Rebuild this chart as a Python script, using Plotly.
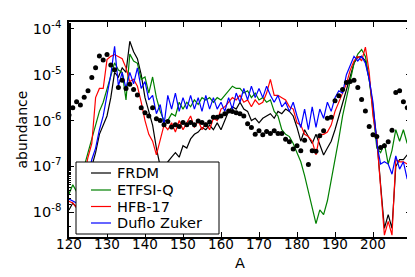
import plotly.graph_objects as go

A = list(range(120, 210))

# log10(abundance) values, A = 120 .. 209
solar_log = [-5.88, -5.72, -5.59, -5.66, -5.49, -5.35, -5.06, -4.85, -4.59, -4.68,
             -4.56, -4.79, -4.89, -5.28, -5.12, -5.30, -5.21, -5.32, -5.44, -5.72,
             -5.83, -5.90, -5.72, -5.96, -6.00, -6.09, -6.02, -6.14, -6.09, -6.13,
             -6.04, -6.09, -6.04, -6.09, -6.01, -6.04, -6.09, -6.03, -5.93, -5.93,
             -5.90, -5.85, -5.79, -5.80, -5.83, -5.85, -5.90, -6.07, -6.15, -6.30,
             -6.22, -6.31, -6.24, -6.28, -6.22, -6.28, -6.28, -6.41, -6.46, -6.62,
             -6.55, -6.66, -6.43, -6.96, -6.66, -6.67, -6.33, -6.22, -5.95, -5.93,
             -5.57, -5.46, -5.32, -5.17, -5.15, -5.12, -5.28, -5.54, -5.79, -6.13,
             -6.31, -6.35, -6.59, -6.55, -6.46, -6.21, -5.39, -5.35, -5.59, -5.72]

frdm_log = [-7.95, -7.80, -7.90, -7.80, -7.60, -7.30, -7.00, -6.70, -6.30, -6.10,
            -5.90, -5.50, -4.95, -5.05, -4.85, -4.95, -4.27, -4.50, -4.65, -5.00,
            -5.50, -5.80, -6.10, -6.60, -7.00, -7.30, -6.90, -6.80, -6.70, -6.80,
            -6.55, -6.60, -6.40, -6.30, -6.25, -6.15, -6.20, -6.10, -6.20, -6.05,
            -6.20, -6.00, -5.80, -5.70, -5.75, -5.60, -5.75, -5.80, -6.00, -5.95,
            -6.05, -5.95, -5.90, -5.85, -5.95, -5.80, -5.85, -5.75, -5.80, -5.90,
            -6.15, -6.45, -6.20, -6.35, -6.50, -6.30, -6.55, -6.75, -6.60, -6.45,
            -6.20, -5.90, -5.60, -5.30, -5.00, -4.75, -4.62, -4.60, -4.70, -5.10,
            -5.70, -6.40, -7.40, -8.35, -8.05, -8.35, -7.00, -6.85, -6.85, -6.75]

etfsi_log = [-7.60, -7.40, -7.55, -7.30, -7.00, -6.70, -6.40, -6.10, -5.80, -5.60,
             -5.30, -5.00, -4.74, -4.90, -4.95, -5.55, -4.55, -4.70, -4.75, -5.10,
             -5.05, -5.40, -5.05, -5.50, -5.80, -6.00, -6.00, -5.85, -5.90, -5.60,
             -5.75, -5.60, -5.70, -5.55, -5.65, -5.50, -5.55, -5.50, -5.60, -5.50,
             -5.55, -5.45, -5.35, -5.25, -5.30, -5.30, -5.40, -5.35, -5.50, -5.40,
             -5.55, -5.50, -5.60, -5.55, -5.80, -5.90, -6.20, -6.30, -6.35, -6.50,
             -6.70, -6.90, -7.20, -7.55, -7.85, -8.25, -7.95, -8.05, -7.75, -7.30,
             -6.90, -6.40, -5.90, -5.50, -5.10, -4.75, -4.55, -4.45, -4.60, -5.10,
             -5.80, -6.60, -6.70, -6.50, -6.95, -6.65, -6.20, -6.45, -6.20, -6.50]

hfb_log = [-7.76, -7.80, -7.90, -7.60, -7.20, -6.80, -6.50, -5.50, -5.30, -5.30,
           -4.67, -4.60, -4.56, -4.60, -4.65, -4.85, -5.15, -5.10, -5.25, -5.60,
           -6.00, -6.30, -6.45, -6.75, -6.40, -6.10, -6.20, -6.05, -6.25, -6.00,
           -6.20, -6.05, -5.90, -6.15, -6.00, -6.20, -6.05, -6.20, -5.95, -6.00,
           -5.75, -5.70, -5.60, -5.50, -5.55, -5.45, -5.60, -5.55, -5.70, -5.55,
           -5.65, -5.60, -5.40, -5.10, -5.45, -5.45, -5.50, -5.55, -5.70, -5.75,
           -6.05, -6.10, -6.30, -6.35, -6.45, -6.75, -6.30, -6.30, -6.25, -6.10,
           -5.80, -5.60, -5.40, -5.20, -4.90, -4.70, -4.60, -4.70, -4.40, -4.95,
           -5.90, -6.40, -7.45, -8.50, -8.20, -8.50, -6.85, -6.90, -6.90, -6.95]

dz_log = [-7.71, -7.75, -7.80, -7.70, -7.50, -7.20, -6.85, -6.60, -6.20, -5.90,
          -5.40, -5.00, -4.38, -5.25, -4.95, -5.30, -4.95, -5.20, -4.85, -5.30,
          -5.15, -5.55, -5.45, -5.85, -5.65, -6.10, -5.45, -5.75, -5.40, -5.80,
          -5.50, -5.75, -5.45, -5.75, -5.50, -5.80, -5.45, -5.75, -5.50, -5.75,
          -5.60, -5.80, -5.50, -5.75, -5.40, -5.60, -5.30, -5.55, -5.25, -5.50,
          -5.30, -5.50, -5.25, -5.45, -5.60, -5.45, -5.70, -5.60, -5.80, -5.60,
          -5.90, -6.15, -5.75, -6.20, -5.70, -6.15, -5.75, -5.95, -5.60, -5.80,
          -5.50, -5.35, -5.40, -5.00, -4.80, -4.60, -4.70, -4.60, -4.75, -5.10,
          -5.60, -6.50, -6.95, -6.90, -6.95, -7.17, -6.77, -7.06, -6.90, -7.28]

series_names = ["FRDM", "ETFSI-Q", "HFB-17", "Duflo Zuker"]
series_vals = [frdm_log, etfsi_log, hfb_log, dz_log]
series_colors = ["#000000", "#008000", "#ff0000", "#0000ff"]

FONT = "DejaVu Sans"
W, H = 415, 277
ML, MR, MT, MB = 61, 12, 14, 48
PW, PH = W - ML - MR, H - MT - MB


def px_x(p):
    return (p - ML) / PW


def px_y(p):
    return (H - MB - p) / PH


fig = go.Figure()
for name, vals, col in zip(series_names, series_vals, series_colors):
    fig.add_trace(go.Scatter(x=A, y=[10 ** v for v in vals], mode="lines", name=name,
                             line=dict(color=col, width=1.2), showlegend=False))
fig.add_trace(go.Scatter(x=A, y=[10 ** v for v in solar_log], mode="markers",
                         marker=dict(color="black", size=5), showlegend=False))

# legend box drawn in the lower left corner, above the data
shapes = [dict(type="rect", xref="paper", yref="paper",
               x0=px_x(68), x1=px_x(211), y0=px_y(226), y1=px_y(154),
               fillcolor="white", line=dict(color="black", width=1), layer="above")]
annotations = []
row_y = [165, 182, 198.5, 215]
for name, col, ry in zip(series_names, series_colors, row_y):
    shapes.append(dict(type="line", xref="paper", yref="paper",
                       x0=px_x(83), x1=px_x(103), y0=px_y(ry), y1=px_y(ry),
                       line=dict(color=col, width=1.2), layer="above"))
    annotations.append(dict(text=name, xref="paper", yref="paper", x=px_x(107), y=px_y(ry),
                            xanchor="left", yanchor="middle", showarrow=False,
                            font=dict(family=FONT, size=14.5, color="black")))
# axis titles
annotations.append(dict(text="A", xref="paper", yref="paper", x=0.5, y=px_y(255),
                        xanchor="center", yanchor="middle", showarrow=False,
                        font=dict(family=FONT, size=14.5, color="black")))
annotations.append(dict(text="abundance", xref="paper", yref="paper", x=px_x(13), y=0.5,
                        xanchor="center", yanchor="middle", showarrow=False, textangle=-90,
                        font=dict(family=FONT, size=14, color="black")))

y_ticks = [1e-8, 1e-7, 1e-6, 1e-5, 1e-4]
y_text = ["10<sup>-8</sup>", "10<sup>-7</sup>", "10<sup>-6</sup>", "10<sup>-5</sup>", "10<sup>-4</sup>"]

fig.update_layout(
    width=W, height=H,
    margin=dict(l=ML, r=MR, t=MT, b=MB),
    paper_bgcolor="white", plot_bgcolor="white",
    font=dict(family=FONT, size=13, color="black"),
    showlegend=False,
    shapes=shapes, annotations=annotations,
    xaxis=dict(range=[120, 210], tickvals=list(range(120, 210, 10)),
               showline=True, linecolor="black", linewidth=1.5, mirror="allticks",
               ticks="inside", ticklen=5, tickcolor="black", showgrid=False,
               zeroline=False, ticklabelstandoff=-6, automargin=False,
               tickfont=dict(size=13.5)),
    yaxis=dict(type="log", range=[-8.54, -3.85], tickvals=y_ticks, ticktext=y_text,
               showline=True, linecolor="black", linewidth=1.5, mirror="allticks",
               ticks="inside", ticklen=5, tickcolor="black", showgrid=False,
               zeroline=False, automargin=False,
               tickfont=dict(size=14.5), ticklabelstandoff=3,
               minor=dict(ticks="inside", ticklen=2.5, tickcolor="black", showgrid=False)),
)

fig.write_html("out.html")
